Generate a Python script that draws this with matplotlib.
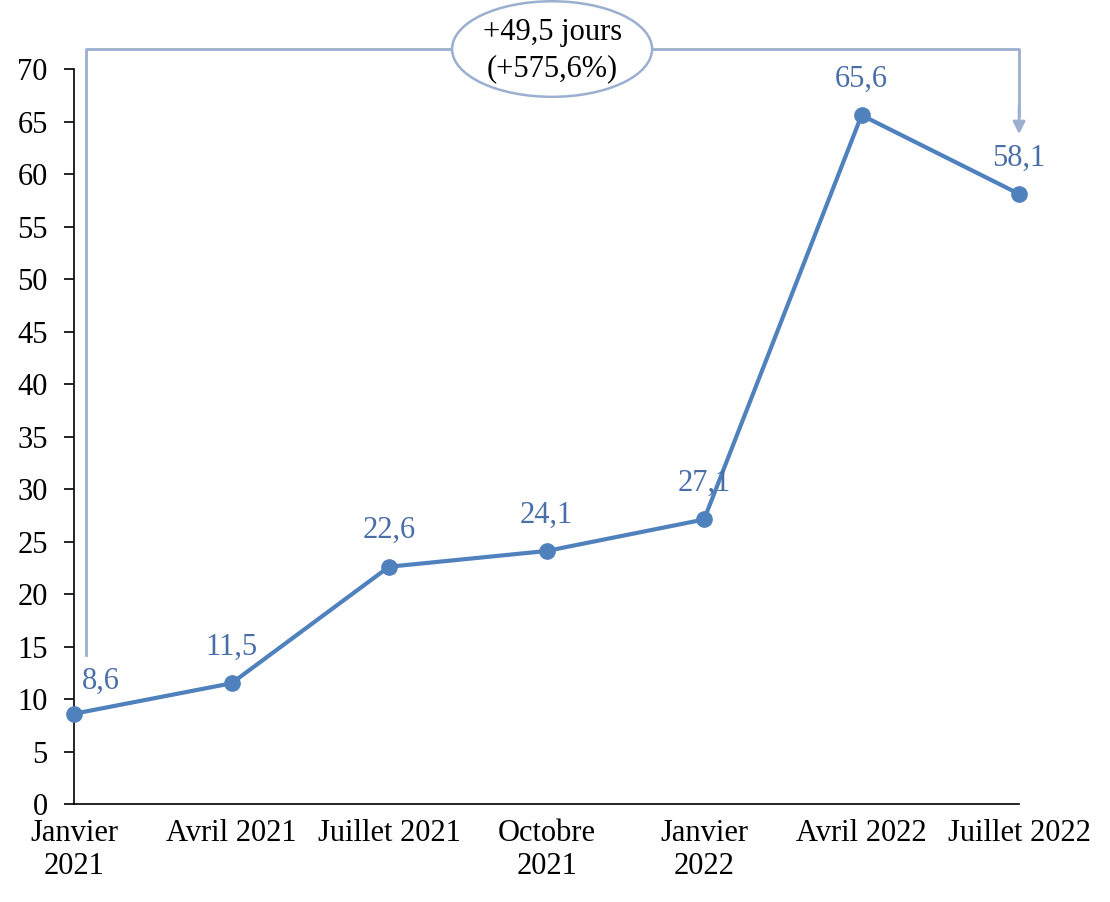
import matplotlib.pyplot as plt
from matplotlib.patches import Ellipse

plt.rcParams['font.family'] = ['Liberation Serif', 'DejaVu Serif']

periodes = ["Janvier\n2021", "Avril 2021", "Juillet 2021", "Octobre\n2021",
            "Janvier\n2022", "Avril 2022", "Juillet 2022"]
delais = [8.6, 11.5, 22.6, 24.1, 27.1, 65.6, 58.1]
etiquettes = ["8,6", "11,5", "22,6", "24,1", "27,1", "65,6", "58,1"]
ecart_texte = "+49,5 jours\n(+575,6%)"

bleu = "#4f81bd"
bleu_txt = "#4a6ea8"
bleu_clair = "#9bafd0"

fig = plt.figure(figsize=(11.1, 9.02), dpi=100)
ax = fig.add_axes([0.0667, 0.1086, 0.8514, 0.8149])

x = list(range(len(delais)))
ax.plot(x, delais, color=bleu, lw=3, marker="o", ms=11, zorder=3, clip_on=False)

# data labels
for i, (v, t) in enumerate(zip(delais, etiquettes)):
    dx = 19 if i == 0 else 0
    off = 23 if i == 0 else 26
    ax.annotate(t, (i, v), xytext=(dx, off), textcoords="offset points",
                ha="center", va="center", fontsize=22, color=bleu_txt)

ax.set_xlim(0, 6)
ax.set_ylim(0, 70)
ax.set_yticks(range(0, 71, 5))
ax.set_xticks(x)
ax.set_xticklabels(periodes, linespacing=1.15)
ax.tick_params(axis="y", labelsize=22, length=7, width=1.2, pad=12)
ax.tick_params(axis="x", labelsize=22, length=0, pad=11)
for s in ["top", "right"]:
    ax.spines[s].set_visible(False)
for s in ["left", "bottom"]:
    ax.spines[s].set_linewidth(1.2)

# bracket + arrow showing the gap
x0, x1 = 0.076, 6.0
ytop = 71.9
ax.plot([x0, x0, x1, x1], [14.2, ytop, ytop, 65.5], color=bleu_clair, lw=2,
        clip_on=False, zorder=2)
ax.annotate("", xy=(x1, 63.8), xytext=(x1, 66.5),
            arrowprops=dict(arrowstyle="-|>", color=bleu_clair, lw=2,
                            mutation_scale=18, shrinkA=0, shrinkB=0),
            annotation_clip=False)
ell = Ellipse((3.035, ytop), 1.27, 9.1, facecolor="white", edgecolor=bleu_clair,
              lw=1.8, clip_on=False, zorder=4)
ax.add_patch(ell)
ax.text(3.035, ytop - 0.15, ecart_texte, ha="center", va="center", fontsize=22,
        linespacing=1.3, zorder=5, clip_on=False)

fig.savefig("out.png", dpi=100)
